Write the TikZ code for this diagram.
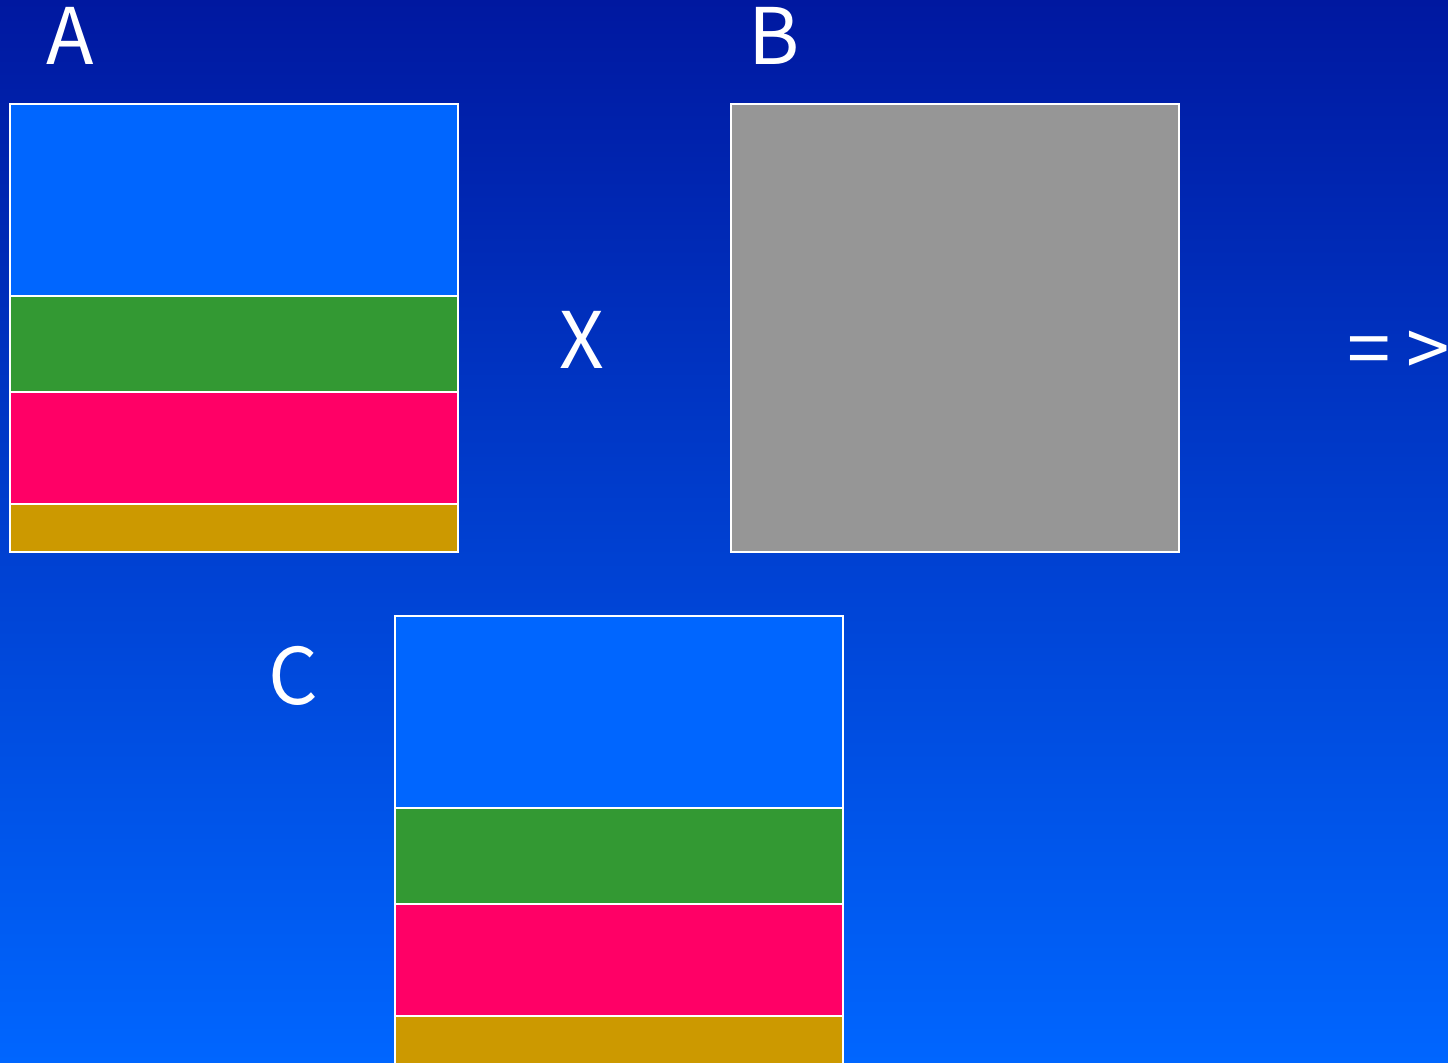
\documentclass[tikz,border=0pt]{standalone}
\usepackage{fontspec}
\usepackage{tikz}
\usetikzlibrary{positioning}
\newfontfamily\jpfont{Noto Sans CJK JP}
\definecolor{bgtop}{RGB}{0, 24, 160}
\definecolor{bgbottom}{RGB}{0, 102, 255}
\definecolor{bandblue}{RGB}{0, 102, 255}
\definecolor{bandgreen}{RGB}{51, 153, 51}
\definecolor{bandred}{RGB}{255, 0, 102}
\definecolor{bandgold}{RGB}{204, 153, 0}
\definecolor{matgray}{RGB}{150, 150, 150}

\begin{document}
\begin{tikzpicture}[
    x=0.5pt, y=-0.5pt,
    band/.style={draw=white, line width=0.75pt, minimum width=224pt,
                 inner sep=0pt, outer sep=0pt},
    label/.style={text=white, font=\jpfont\fontsize{39}{39}\selectfont,
                  inner sep=0pt, text height=0.75em, text depth=0pt, anchor=base}
]
    \useasboundingbox (0,0) rectangle (1448,1063);
    \clip (0,0) rectangle (1448,1063);
    \shade[top color=bgtop, bottom color=bgbottom] (0,0) rectangle (1448,1063);

    % ==================== MATRIX A ====================
    \node[band, fill=bandblue, minimum height=96pt, anchor=north west] (ablue) at (10,104) {};
    \node[band, fill=bandgreen, minimum height=48pt, below=0pt of ablue] (agreen) {};
    \node[band, fill=bandred, minimum height=56pt, below=0pt of agreen] (ared) {};
    \node[band, fill=bandgold, minimum height=24pt, below=0pt of ared] (agold) {};

    % ==================== MATRIX B ====================
    \node[band, fill=matgray, minimum height=224pt, anchor=north west] (bgray) at (731,104) {};

    % ==================== MATRIX C ====================
    \node[band, fill=bandblue, minimum height=96pt, anchor=north west] (cblue) at (395,616) {};
    \node[band, fill=bandgreen, minimum height=48pt, below=0pt of cblue] (cgreen) {};
    \node[band, fill=bandred, minimum height=56pt, below=0pt of cgreen] (cred) {};
    \node[band, fill=bandgold, minimum height=24pt, below=0pt of cred] (cgold) {};

    % ==================== LABELS ====================
    \node[label] (alabel) at (70,65) {A};
    \node[label] (blabel) at (774,65) {B};
    \node[label] (times) at (582,369) {X};
    \node[label] (clabel) at (293,705) {C};
    \node[label, anchor=base west] (yields) at (1347,378) {=\kern0.2em>};
\end{tikzpicture}
\end{document}
